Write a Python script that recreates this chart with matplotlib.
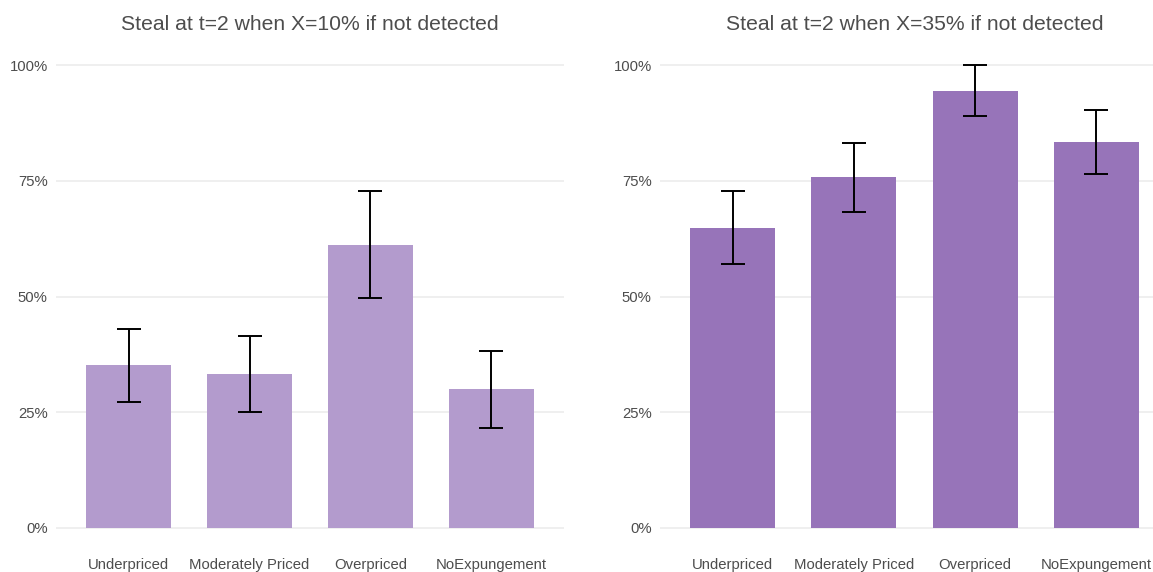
import matplotlib.pyplot as plt
import numpy as np

plt.rcParams['font.family'] = ['Liberation Sans', 'DejaVu Sans']

categories = ['Underpriced', 'Moderately Priced', 'Overpriced', 'NoExpungement']

# X = 10%
steal_10 = [0.352, 0.333, 0.611, 0.300]
lo_10 = [0.272, 0.250, 0.497, 0.216]
hi_10 = [0.430, 0.415, 0.728, 0.382]

# X = 35%
steal_35 = [0.648, 0.758, 0.944, 0.834]
lo_35 = [0.570, 0.683, 0.890, 0.765]
hi_35 = [0.728, 0.832, 1.000, 0.903]

titles = ['Steal at t=2 when X=10% if not detected',
          'Steal at t=2 when X=35% if not detected']
colors = ['#B39BCD', '#9774B9']
yticks = [0, 0.25, 0.5, 0.75, 1.0]
ylabels = ['0%', '25%', '50%', '75%', '100%']

fig = plt.figure(figsize=(11.53, 5.72), dpi=100)
W, H = 1153, 572
# axes boxes in pixels: left, right
boxes = [(56, 564), (660, 1169)]
top_px, bot_px = 42, 551

panels = [(steal_10, lo_10, hi_10), (steal_35, lo_35, hi_35)]
x = np.arange(1, len(categories) + 1)

for (l, r), (vals, lo, hi), col, title in zip(boxes, panels, colors, titles):
    ax = fig.add_axes([l / W, 1 - bot_px / H, (r - l) / W, (bot_px - top_px) / H])
    vals = np.array(vals)
    err = [vals - np.array(lo), np.array(hi) - vals]
    ax.bar(x, vals, width=0.7, color=col, zorder=2)
    ax.errorbar(x, vals, yerr=err, fmt='none', ecolor='black',
                elinewidth=1.4, capsize=8.7, capthick=1.4, zorder=3)
    ax.set_xlim(0.4, 4.6)
    ax.set_ylim(-0.05, 1.05)
    ax.set_yticks(yticks)
    ax.set_yticklabels(ylabels)
    ax.set_xticks(x)
    ax.set_xticklabels(categories)
    ax.grid(axis='y', color='#EBEBEB', linewidth=1.1, zorder=0)
    ax.grid(axis='x', visible=False)
    for s in ax.spines.values():
        s.set_visible(False)
    ax.tick_params(length=0, labelsize=10.7, colors='#4D4D4D', pad=5)
    ax.tick_params(axis='y', pad=6)
    ax.set_title(title, fontsize=15.2, color='#4D4D4D', pad=9)

fig.savefig('out.png', dpi=100)
